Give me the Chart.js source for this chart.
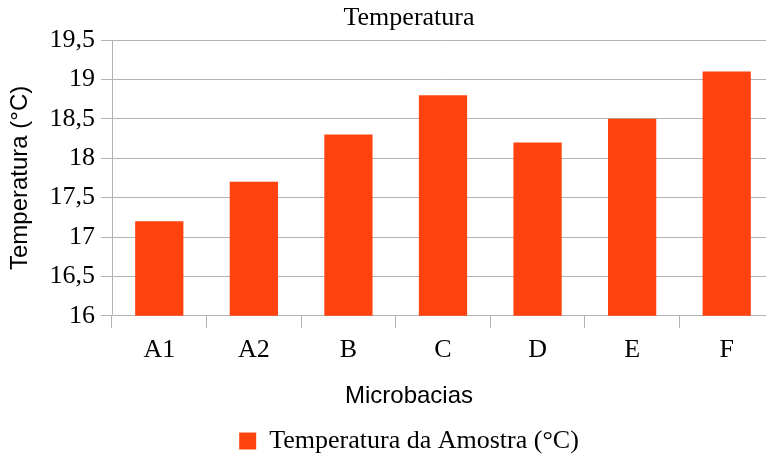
<!DOCTYPE html>
<html>
<head>
<meta charset="utf-8">
<script src="https://cdn.jsdelivr.net/npm/chart.js@4/dist/chart.umd.min.js"></script>
<style>
  html, body { margin: 0; padding: 0; background: #fff; overflow: hidden; }
  #wrap { width: 816px; height: 458px; }
</style>
</head>
<body>
<div id="wrap"><canvas id="barChart" width="816" height="458"></canvas></div>
<script>
// data
const categories = ['A1', 'A2', 'B', 'C', 'D', 'E', 'F'];
const temperatures = [17.2, 17.7, 18.3, 18.8, 18.2, 18.5, 19.1];
const seriesName = 'Temperatura da Amostra (°C)';
const yMin = 16, yMax = 19.5, yStep = 0.5;

const serif = 'Liberation Serif';
const sans = 'Liberation Sans';
const gridColor = '#b3b3b3';

Chart.defaults.color = '#000';

var ctx = document.getElementById('barChart').getContext('2d');
var myChart = new Chart(ctx, {
    type: 'bar',
    data: {
        labels: categories,
        datasets: [{
            label: seriesName,
            data: temperatures,
            backgroundColor: '#ff420e',
            borderWidth: 0,
            categoryPercentage: 1,
            barPercentage: 0.51
        }]
    },
    options: {
        responsive: false,
        animation: false,
        // negative bottom: the legend keeps 10px of empty space under it
        layout: { padding: { left: 2, right: 0, top: 0, bottom: -6 } },
        plugins: {
            title: {
                display: true,
                text: 'Temperatura',
                font: { family: serif, size: 26, weight: 'normal' },
                padding: { top: 2.3, bottom: 6.5 }
            },
            subtitle: { // x axis title, centred like the original
                display: true,
                position: 'bottom',
                weight: 900,
                text: 'Microbacias',
                font: { family: sans, size: 24, weight: 'normal' },
                padding: { top: 8.6, bottom: 17.6 }
            },
            legend: {
                position: 'bottom',
                labels: {
                    font: { family: serif, size: 26 },
                    boxWidth: 17,
                    boxHeight: 17,
                    padding: 0
                }
            },
            tooltip: { enabled: false }
        },
        scales: {
            x: {
                grid: {
                    offset: true,
                    drawOnChartArea: false,
                    color: gridColor,
                    tickLength: 12
                },
                border: { color: gridColor },
                ticks: { font: { family: serif, size: 26 }, padding: 7 }
            },
            y: {
                min: yMin,
                max: yMax,
                grid: { color: gridColor, tickLength: 11 },
                border: { color: gridColor },
                ticks: {
                    stepSize: yStep,
                    font: { family: serif, size: 26 },
                    padding: 6,
                    callback: function (v) { return String(v).replace('.', ','); }
                },
                title: {
                    display: true,
                    text: 'Temperatura (°C)',
                    font: { family: sans, size: 24 },
                    padding: { top: 4, bottom: 4 }
                },
                afterFit: function (s) { s.width = 110; }
            },
            // empty right-hand box so the plot runs past the window edge like the original
            yRight: {
                position: 'right',
                grid: { display: false },
                border: { display: false },
                ticks: { display: false },
                afterFit: function (s) { s.width = 42; }
            }
        }
    }
});
</script>
</body>
</html>
